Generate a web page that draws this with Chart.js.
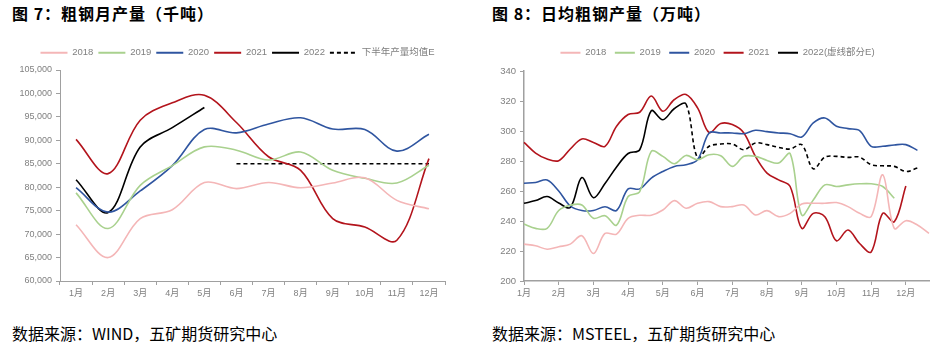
<!DOCTYPE html>
<html>
<head>
<meta charset="utf-8">
<script src="https://cdn.jsdelivr.net/npm/chart.js@4.4.0/dist/chart.umd.min.js"></script>
<style>
  body { margin: 0; width: 947px; height: 349px; background: #fff; position: relative; overflow: hidden; font-family: "Noto Sans CJK SC", sans-serif; }
  .title { position: absolute; top: 5px; font-size: 16px; line-height: 16px; font-weight: bold; color: #000; letter-spacing: 1px; }
  .src { position: absolute; top: 325px; font-size: 16px; line-height: 16px; color: #000; }
  canvas { position: absolute; top: 36px; }
</style>
</head>
<body>
<div class="title" style="left:12px">图 7：粗钢月产量（千吨）</div>
<div class="title" style="left:492px">图 8：日均粗钢产量（万吨）</div>
<canvas id="c1" width="470" height="266" style="left:0"></canvas>
<canvas id="c2" width="467" height="266" style="left:480px"></canvas>
<div class="src" style="left:12px">数据来源：WIND，五矿期货研究中心</div>
<div class="src" style="left:492px">数据来源：MSTEEL，五矿期货研究中心</div>
<script>
// 月份
var months = ['1月','2月','3月','4月','5月','6月','7月','8月','9月','10月','11月','12月'];

// 图7 粗钢月产量（千吨）
var m2018 = [72000, 65000, 73300, 75200, 81000, 79700, 81000, 79900, 80900, 82000, 77200, 75400];
var m2019 = [78800, 71200, 80400, 84600, 88600, 87900, 85800, 87500, 83600, 81900, 80900, 84700];
var m2020 = [79900, 74700, 79200, 84600, 92300, 91600, 93500, 94800, 92400, 92300, 87700, 91300];
var m2021 = [90200, 82900, 94300, 98000, 99600, 93800, 86500, 83600, 73300, 71500, 68700, 86100];
var m2022 = [81600, 74600, 88600, 92700, 97000, null, null, null, null, null, null, null];
var m2022E = [null, null, null, null, null, 85000, 85000, 85000, 85000, 85000, 85000, 85000];

// 图8 日均粗钢产量（万吨），按旬
var dekads = [];
for (var i = 0; i < months.length; i++) {
    dekads.push(months[i] + '上旬', months[i] + '中旬', months[i] + '下旬');
}
var d2018 = [224.6,223.5,221.2,222.8,224.6,230.2,218.3,231.7,231.3,241.8,243.8,243.8,247.3,253.6,248.5,251.8,252.9,249.6,
             249.6,250.7,244.0,246.9,242.9,245.1,251.4,251.8,251.8,252.3,249.6,245.1,242.9,270.8,235.1,240.2,237.3,231.7];
var d2019 = [238.0,235.1,235.1,247.0,250.5,250.7,241.8,243.5,237.3,256.3,259.6,286.4,283.1,278.2,283.7,280.8,284.2,283.5,
             276.4,283.1,283.1,280.4,278.6,284.9,244.0,254.0,264.1,263.0,264.1,264.8,264.8,263.0,255.2,null,null,null];
var d2020 = [265.2,265.7,267.4,260.0,250.0,247.0,247.0,249.5,247.0,261.4,261.4,268.6,273.0,276.4,277.5,280.8,298.7,298.7,
             298.7,298.2,300.5,299.6,298.7,298.2,296.0,305.4,308.7,303.2,301.6,300.3,289.8,289.8,290.7,290.9,287.1,null];
var d2021 = [292.4,285.3,281.3,280.2,288.0,294.7,292.4,289.8,303.2,311.0,312.5,323.3,313.2,321.0,324.4,315.4,299.0,305.0,
             304.3,298.7,283.1,271.9,267.4,263.0,235.1,245.1,242.9,226.8,234.0,225.0,219.4,245.1,239.5,263.4,null,null];
var d2022 = [251.8,253.6,256.3,252.0,249.0,269.0,255.5,265.0,276.0,285.0,287.5,313.5,307.5,315.0,318.0,282.0,289.8,291.3,
             291.3,287.5,292.0,290.9,289.1,288.0,290.9,274.8,282.6,283.1,282.4,282.6,277.5,276.8,276.4,273.0,275.3,null];
var solidEnd = 14; // 之后为虚线（预估）

var colors = ['#F4B6B7', '#A9D18E', '#2F55A0', '#B3141C', '#000000'];

Chart.defaults.font.family = "'Liberation Sans','Noto Sans CJK SC',sans-serif";
Chart.defaults.color = '#808080';
Chart.defaults.animation = false;

function line(label, data, color, extra) {
    var d = {
        label: label, data: data, borderColor: color, backgroundColor: color,
        borderWidth: 1.6, pointRadius: 0, tension: 0.35, fill: false
    };
    for (var k in extra) d[k] = extra[k];
    return d;
}

// 图例用线段样式（虚线也要画出来）
function lineLabels(chart) {
    var items = Chart.defaults.plugins.legend.labels.generateLabels(chart);
    items.forEach(function (it) {
        var ds = chart.data.datasets[it.datasetIndex];
        it.lineDash = ds.borderDash || [];
        it.lineWidth = 2;
        it.strokeStyle = ds.borderColor;
    });
    return items;
}

// 固定图例高度，并整体横向挪一点
function legendTweak(h, dx) {
    return {
        id: 'legendTweak',
        afterInit: function (chart) {
            var lg = chart.legend, fit = lg.fit, draw = lg.draw;
            lg.fit = function () { fit.call(this); this.height = h; };
            lg.draw = function () {
                var ctx = this.ctx;
                ctx.save();
                ctx.translate(dx, 0);
                draw.call(this);
                ctx.restore();
            };
        }
    };
}

var axisColor = '#a0a0a0';

new Chart(document.getElementById('c1'), {
    type: 'line',
    data: {
        labels: months,
        datasets: [
            line('2018', m2018, colors[0]),
            line('2019', m2019, colors[1]),
            line('2020', m2020, colors[2]),
            line('2021', m2021, colors[3]),
            line('2022', m2022, colors[4]),
            line('下半年产量均值E', m2022E, '#000', {borderDash: [4, 3], tension: 0})
        ]
    },
    options: {
        responsive: false,
        layout: {padding: {left: 0, right: 25, top: 7, bottom: 0}},
        plugins: {
            legend: {
                labels: {usePointStyle: true, pointStyle: 'line', pointStyleWidth: 27, padding: 5, font: {size: 9.5}, color: '#808080', generateLabels: lineLabels}
            },
            tooltip: {enabled: false}
        },
        scales: {
            x: {
                offset: true,
                grid: {offset: true, drawOnChartArea: false, tickLength: 4, color: axisColor},
                border: {color: axisColor},
                ticks: {font: {size: 9}, padding: 3, maxRotation: 0, autoSkip: false},
                afterFit: function (s) { s.height = 21; }
            },
            y: {
                min: 60000, max: 105000,
                grid: {drawOnChartArea: false, tickLength: 4, color: axisColor},
                border: {color: axisColor},
                ticks: {stepSize: 5000, font: {size: 9}, padding: 4, callback: function (v) { return v.toLocaleString('en-US'); }},
                afterFit: function (s) { s.width = 60; }
            }
        }
    },
    plugins: [legendTweak(27, 15)]
});

new Chart(document.getElementById('c2'), {
    type: 'line',
    data: {
        labels: dekads,
        datasets: [
            line('2018', d2018, colors[0]),
            line('2019', d2019, colors[1]),
            line('2020', d2020, colors[2]),
            line('2021', d2021, colors[3]),
            line('2022(虚线部分E)', d2022, colors[4], {
                segment: {borderDash: function (c) { return c.p0DataIndex >= solidEnd ? [4, 3] : undefined; }}
            })
        ]
    },
    options: {
        responsive: false,
        layout: {padding: {left: 0, right: 18, top: 3.5, bottom: 0}},
        plugins: {
            legend: {
                labels: {usePointStyle: true, pointStyle: 'line', pointStyleWidth: 20, padding: 8.5, font: {size: 9.5}, color: '#808080', generateLabels: lineLabels}
            },
            tooltip: {enabled: false}
        },
        scales: {
            x: {
                grid: {
                    drawOnChartArea: false, tickLength: 4,
                    tickColor: function (c) { return c.index % 3 === 0 ? axisColor : 'rgba(0,0,0,0)'; }
                },
                border: {color: axisColor, width: 1.5},
                ticks: {
                    font: {size: 9}, padding: 3, maxRotation: 0, autoSkip: false,
                    callback: function (v, i) { return i % 3 === 0 ? months[i / 3] : ''; }
                },
                afterFit: function (s) { s.height = 21; }
            },
            y: {
                min: 200, max: 340,
                grid: {drawOnChartArea: false, tickLength: 4, color: axisColor},
                border: {color: axisColor, width: 1.5},
                ticks: {stepSize: 20, font: {size: 9.5}, padding: 4},
                afterFit: function (s) { s.width = 44; }
            }
        }
    },
    plugins: [legendTweak(31.5, 13)]
});
</script>
</body>
</html>
